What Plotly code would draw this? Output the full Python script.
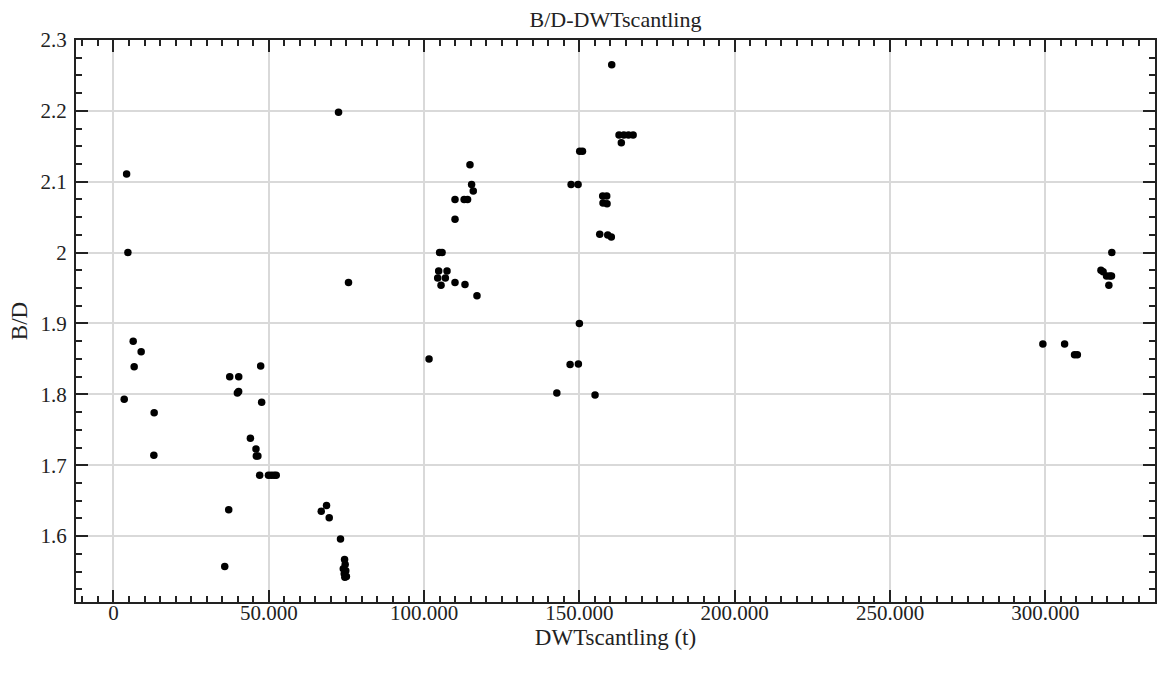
import plotly.graph_objects as go

dwt = [3470, 4240, 4660, 6360, 6680, 8930, 13110, 13010, 35830, 37110, 37440, 40330,
       39900, 40300, 44090, 45890, 46000, 46500, 47080, 47400, 47720, 49900, 50800,
       51700, 52400, 66900, 68600, 69470, 72460, 73100, 74400, 74600, 74000, 74800,
       74300, 74500, 75000, 75670,
       101600, 104380, 104700, 105000, 105800, 105460, 106850, 107390, 109960, 109960,
       109960, 112900, 114000, 113170, 114780, 115300, 115840, 117030,
       142740, 147010, 147330, 149580, 149680, 150000, 150100, 151000, 155040, 156550,
       157500, 158800, 157600, 158900, 159120, 160280, 160410, 162760, 163500, 164300,
       165800, 167300,
       299200, 306200, 309400, 310300, 317900, 318600, 319700, 320700, 321300, 320450,
       321400]
bd = [1.793, 2.111, 2.000, 1.875, 1.839, 1.860, 1.774, 1.714, 1.557, 1.637, 1.825, 1.825,
      1.802, 1.804, 1.738, 1.723, 1.713, 1.713, 1.686, 1.840, 1.789, 1.686, 1.686,
      1.686, 1.686, 1.635, 1.643, 1.626, 2.198, 1.596, 1.567, 1.560, 1.554, 1.551,
      1.547, 1.542, 1.543, 1.958,
      1.850, 1.964, 1.974, 2.000, 2.000, 1.954, 1.964, 1.974, 2.075, 2.047,
      1.958, 2.075, 2.075, 1.955, 2.124, 2.096, 2.087, 1.939,
      1.802, 1.842, 2.096, 2.096, 1.843, 1.900, 2.143, 2.143, 1.799, 2.026,
      2.080, 2.080, 2.070, 2.069, 2.025, 2.022, 2.265, 2.166, 2.155, 2.166,
      2.166, 2.166,
      1.871, 1.871, 1.856, 1.856, 1.975, 1.973, 1.967, 1.967, 1.967, 1.954,
      2.000]

x_tickvals = [0, 50000, 100000, 150000, 200000, 250000, 300000]
x_ticktext = ["0", "50.000", "100.000", "150.000", "200.000", "250.000", "300.000"]
y_tickvals = [1.6, 1.7, 1.8, 1.9, 2.0, 2.1, 2.2, 2.3]
y_ticktext = ["1.6", "1.7", "1.8", "1.9", "2", "2.1", "2.2", "2.3"]

FONT = "'Liberation Serif', 'Times New Roman', 'DejaVu Serif', serif"
AX = "#222222"
GRID = "#d9d9d9"
TXT = "#222222"

fig = go.Figure(go.Scatter(
    x=dwt, y=bd, mode="markers",
    marker=dict(color="black", size=7.5, line=dict(width=0)),
    showlegend=False,
))

fig.update_layout(
    width=1158, height=679,
    margin=dict(l=76, r=1, t=40, b=77),
    paper_bgcolor="white", plot_bgcolor="white",
    font=dict(family=FONT, color=TXT, size=21),
    title=dict(text="B/D-DWTscantling", x=0.5, xref="paper", xanchor="center",
               y=1 - 19 / 679, yref="container", yanchor="middle",
               font=dict(family=FONT, size=22, color=TXT)),
)

fig.update_xaxes(
    range=[-12050, 335300],
    tickvals=x_tickvals, ticktext=x_ticktext,
    ticks="inside", ticklen=12, tickwidth=2, tickcolor=AX,
    showline=True, linewidth=2, linecolor=AX, mirror="ticks",
    showgrid=True, gridcolor=GRID, gridwidth=1.5,
    zeroline=False,
    minor=dict(dtick=5000, tick0=0, ticks="inside", ticklen=6, tickwidth=2,
               tickcolor=AX, showgrid=False),
    tickfont=dict(family=FONT, size=21, color=TXT),
    ticklabelstandoff=-9,
    title=dict(text="DWTscantling (t)", font=dict(family=FONT, size=23, color=TXT),
               standoff=4),
)
fig.update_yaxes(
    range=[1.507, 2.3],
    tickvals=y_tickvals, ticktext=y_ticktext,
    ticks="inside", ticklen=12, tickwidth=2, tickcolor=AX,
    showline=True, linewidth=2, linecolor=AX, mirror="ticks",
    showgrid=True, gridcolor=GRID, gridwidth=1.5,
    zeroline=False,
    minor=dict(dtick=0.025, tick0=0, ticks="inside", ticklen=6, tickwidth=2,
               tickcolor=AX, showgrid=False),
    tickfont=dict(family=FONT, size=21, color=TXT),
    ticklabelstandoff=3,
    title=dict(text="B/D", font=dict(family=FONT, size=23, color=TXT),
               standoff=6),
)

fig.write_html("out.html")
